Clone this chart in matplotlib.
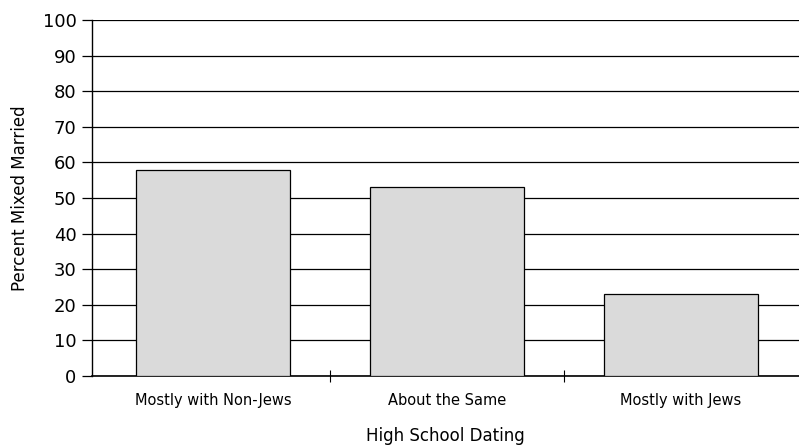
import numpy as np
import matplotlib
matplotlib.use('Agg')
import matplotlib.pyplot as plt

# bar chart: percent mixed married by high school dating pattern
categories = ["Mostly with Non-Jews", "About the Same", "Mostly with Jews"]
values = [58, 53, 23]
yticks = [0, 10, 20, 30, 40, 50, 60, 70, 80, 90, 100]

plt.rcParams['font.family'] = ['DejaVu Sans']
fig = plt.figure(figsize=(7.99, 4.45), dpi=100)
ax = fig.add_axes([0.115, 0.155, 0.885, 0.80])

x = np.arange(len(categories))
ax.bar(x, values, width=0.66, color="#dadada", edgecolor="black", linewidth=0.9, zorder=3)

ax.set_ylim(0, 100)
ax.set_xlim(-0.517, 2.504)
ax.set_yticks(yticks)
ax.set_yticklabels([str(t) for t in yticks], fontsize=13)
ax.yaxis.grid(True, color="black", linewidth=0.9, zorder=0)
ax.set_axisbelow(True)

ax.set_xticks(x)
ax.set_xticklabels(categories, fontsize=10.5)
ax.tick_params(axis="x", length=0, pad=12)
ax.tick_params(axis="y", length=7, width=0.9, direction="out", pad=4)
ax.set_xticks([0.5, 1.5], minor=True)
ax.tick_params(axis="x", which="minor", length=8, width=0.8, direction="inout")

for s in ["top", "right"]:
    ax.spines[s].set_visible(False)
ax.spines["left"].set_linewidth(1.0)
ax.spines["bottom"].set_linewidth(1.2)

ax.set_ylabel("Percent Mixed Married", fontsize=12, labelpad=10)
ax.set_xlabel("High School Dating", fontsize=12, labelpad=14)

fig.savefig("out.png", dpi=100)
